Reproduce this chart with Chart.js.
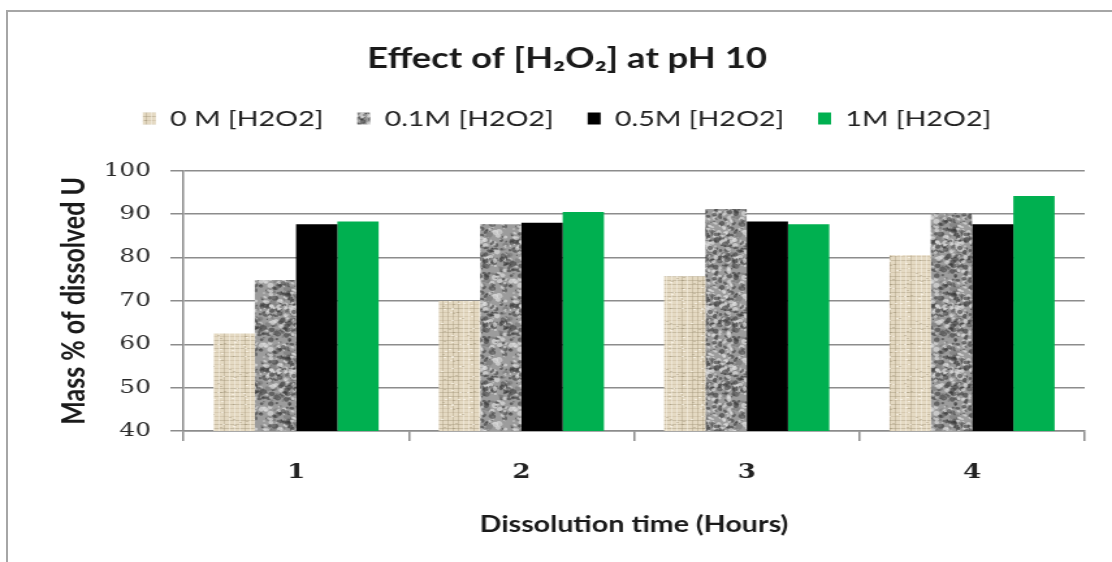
<!DOCTYPE html>
<html>
<head>
<meta charset="utf-8">
<script src="https://cdn.jsdelivr.net/npm/chart.js@4"></script>
<style>
  body { margin: 0; background: #fff; }
  #wrap { position: relative; width: 1112px; height: 562px; overflow: hidden; }
  #frame { position: absolute; left: 6px; top: 10px; width: 1200px; height: 600px;
           border-top: 2px solid #a6a6a6; border-left: 2px solid #a6a6a6; }
  /* the chart is laid out narrow and widened, which gives the broad lettering */
  canvas { position: absolute; left: 0; top: 0; transform: scaleX(1.3006); transform-origin: 0 0; }
</style>
</head>
<body>
<div id="wrap">
  <div id="frame"></div>
  <canvas id="chart" width="855" height="562"></canvas>
</div>
<script>
// Mass % of dissolved U at pH 10 for each peroxide concentration
const hours = ['1', '2', '3', '4'];
const series = ['0 M [H2O2]', '0.1M [H2O2]', '0.5M [H2O2]', '1M [H2O2]'];
const h2o2_0M = [62.5, 70.0, 75.7, 80.5];
const h2o2_01M = [74.8, 87.7, 91.2, 90.2];
const h2o2_05M = [87.7, 88.0, 88.3, 87.7];
const h2o2_1M = [88.3, 90.5, 87.7, 94.2];
const yTicks = [40, 50, 60, 70, 80, 90, 100];

// small deterministic generator so the textures look the same every load
function lcg(seed) {
  let s = seed;
  return function () {
    s = (s * 1664525 + 1013904223) % 4294967296;
    return s / 4294967296;
  };
}

// woven canvas texture for the 0 M bars
function burlapPattern() {
  const c = document.createElement('canvas');
  c.width = 48; c.height = 48;
  const g = c.getContext('2d');
  const r = lcg(7);
  g.fillStyle = '#e4d9c2';
  g.fillRect(0, 0, 48, 48);
  for (let y = 0; y < 48; y += 4) {
    g.fillStyle = r() > 0.5 ? 'rgba(150,135,105,0.35)' : 'rgba(170,155,125,0.25)';
    g.fillRect(0, y, 48, 1);
  }
  for (let x = 0; x < 48; x += 4) {
    g.fillStyle = r() > 0.5 ? 'rgba(150,135,105,0.3)' : 'rgba(250,245,235,0.5)';
    g.fillRect(x, 0, 1, 48);
  }
  for (let i = 0; i < 60; i++) {
    g.fillStyle = r() > 0.5 ? 'rgba(255,250,240,0.6)' : 'rgba(140,125,95,0.3)';
    g.fillRect(Math.floor(r() * 48), Math.floor(r() * 48), 2, 1);
  }
  return g.createPattern(c, 'repeat');
}

// granite texture for the 0.1M bars
function granitePattern() {
  const c = document.createElement('canvas');
  c.width = 64; c.height = 64;
  const g = c.getContext('2d');
  const r = lcg(23);
  g.fillStyle = '#9c9c9c';
  g.fillRect(0, 0, 64, 64);
  for (let i = 0; i < 520; i++) {
    const x = r() * 64, y = r() * 64, rad = 0.7 + r() * 1.8;
    const v = r();
    g.fillStyle = v < 0.4 ? 'rgba(60,60,60,0.6)' : (v < 0.8 ? 'rgba(225,225,225,0.65)' : 'rgba(120,120,120,0.6)');
    const ry = rad * (0.5 + r() * 0.8), rot = r() * 3;
    for (const dx of [-64, 0, 64]) {
      for (const dy of [-64, 0, 64]) {
        g.beginPath();
        g.ellipse(x + dx, y + dy, rad, ry, rot, 0, Math.PI * 2);
        g.fill();
      }
    }
  }
  return g.createPattern(c, 'repeat');
}

const ctx = document.getElementById('chart').getContext('2d');
const fills = [burlapPattern(), granitePattern(), '#000000', '#00b050'];
const values = [h2o2_0M, h2o2_01M, h2o2_05M, h2o2_1M];

new Chart(ctx, {
  type: 'bar',
  data: {
    labels: hours,
    datasets: series.map((name, i) => ({
      label: name,
      data: values[i],
      backgroundColor: fills[i],
      borderWidth: 0,
      categoryPercentage: 0.733,
      barPercentage: 1.0
    }))
  },
  options: {
    responsive: false,
    animation: false,
    layout: { padding: { left: 38, right: 21, top: 0, bottom: 20 } },
    plugins: {
      title: {
        display: true,
        text: 'Effect of [H\u2082O\u2082] at pH 10',
        color: '#1a1a1a',
        font: { family: 'Lato', size: 28, weight: 'bold' },
        padding: { top: 42, bottom: 6 }
      },
      legend: {
        display: true,
        position: 'top',
        weight: 1800,
        labels: {
          color: '#222',
          font: { family: 'Lato', size: 22 },
          boxWidth: 10,
          boxHeight: 12,
          padding: 26
        }
      },
      // empty line under the legend, keeps the plot clear of it
      subtitle: {
        display: true,
        text: ' ',
        font: { size: 1 },
        padding: { top: 30, bottom: 0 }
      },
      tooltip: { enabled: false }
    },
    scales: {
      x: {
        offset: true,
        grid: { display: true, drawOnChartArea: false, offset: true, color: '#8c8c8c', lineWidth: 1.5, tickLength: 10 },
        border: { color: '#8c8c8c', width: 1.5 },
        ticks: { color: '#222', font: { family: 'DejaVu Serif', size: 20, weight: 'bold' }, padding: 20 },
        title: {
          display: true,
          text: 'Dissolution time (Hours)',
          color: '#1a1a1a',
          font: { family: 'Lato', size: 22, weight: 'bold' },
          padding: { top: 4, bottom: 4 }
        },
        afterFit: (scale) => { scale.height = 562 - 431 - 20; }
      },
      y: {
        min: 40,
        max: 100,
        afterBuildTicks: (scale) => { scale.ticks = yTicks.map(v => ({ value: v })); },
        grid: { color: '#8c8c8c', lineWidth: 1.5, tickLength: 10 },
        border: { color: '#8c8c8c', width: 1.5 },
        ticks: { color: '#2a2a2a', font: { family: 'DejaVu Serif', size: 19 }, padding: 15 },
        title: {
          display: true,
          text: 'Mass % of dissolved U',
          color: '#1a1a1a',
          font: { family: 'Lato', size: 25, weight: 'bold' },
          padding: { top: 4, bottom: 4 }
        },
        afterFit: (scale) => { scale.width = 141 - 38; }
      }
    }
  }
});
</script>
</body>
</html>
